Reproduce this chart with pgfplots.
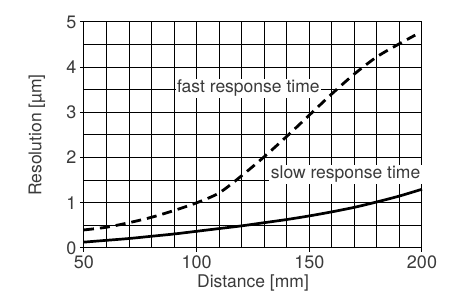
\documentclass[border=0pt]{standalone}
\usepackage{pgfplots}
\pgfplotsset{compat=1.18}
\usepackage{fontspec}
\setmainfont{TeX Gyre Heros}
\definecolor{txt}{HTML}{3A3A3A}
\begin{document}
\begin{tikzpicture}
\begin{axis}[
  scale only axis, width=338pt, height=226pt,
  xmin=50, xmax=200, ymin=0, ymax=5,
  xtick={50,100,150,200}, ytick={0,1,2,3,4,5},
  minor xtick={60,70,80,90,110,120,130,140,160,170,180,190},
  minor ytick={0.5,1.5,2.5,3.5,4.5},
  grid=both,
  major grid style={black, line width=1pt},
  minor grid style={black, line width=1pt},
  axis line style={black, line width=1pt},
  tick style={black, line width=1pt},
  major tick length=4pt, minor tick length=0pt,
  tick align=outside, xtick pos=bottom, ytick pos=left,
  /pgf/number format/assume math mode=true,
  tick label style={font=\fontsize{18}{21}\selectfont, text=txt},
  label style={font=\fontsize{17.5}{21}\selectfont, text=txt},
  xlabel={Distance [mm]}, ylabel={Resolution [µm]},
  xlabel style={at={(axis description cs:0.5,-0.155)}, anchor=center},
  ylabel style={at={(axis description cs:-0.139,0.5)}, anchor=center},
  clip=false,
]
\addplot[black, line width=2.7pt, smooth] coordinates {
(50,0.13) (60,0.17) (70,0.21) (80,0.26) (90,0.31) (100,0.37) (110,0.43) (120,0.49)
(130,0.56) (140,0.63) (150,0.71) (160,0.80) (170,0.90) (180,1.02) (190,1.15) (200,1.30)};
\addplot[black, line width=2.8pt, smooth, dash pattern=on 10pt off 6pt] coordinates {
(50,0.40) (60,0.46) (70,0.56) (80,0.68) (90,0.83) (100,1.00) (110,1.22) (120,1.60)
(130,2.02) (140,2.47) (150,2.94) (160,3.41) (170,3.85) (180,4.23) (190,4.52) (197,4.71)};
\node[fill=white, inner sep=1.5pt, anchor=east, text=txt, font=\fontsize{17.5}{21}\selectfont] at (axis cs:155.3,3.53) {fast response time};
\node[fill=white, inner sep=1.5pt, anchor=east, text=txt, font=\fontsize{17.5}{21}\selectfont] at (axis cs:200,1.63) {slow response time};
\end{axis}
\path (current axis.south west) ++(-84pt,-48pt) rectangle ++(453pt,296pt);
\end{tikzpicture}
\end{document}
